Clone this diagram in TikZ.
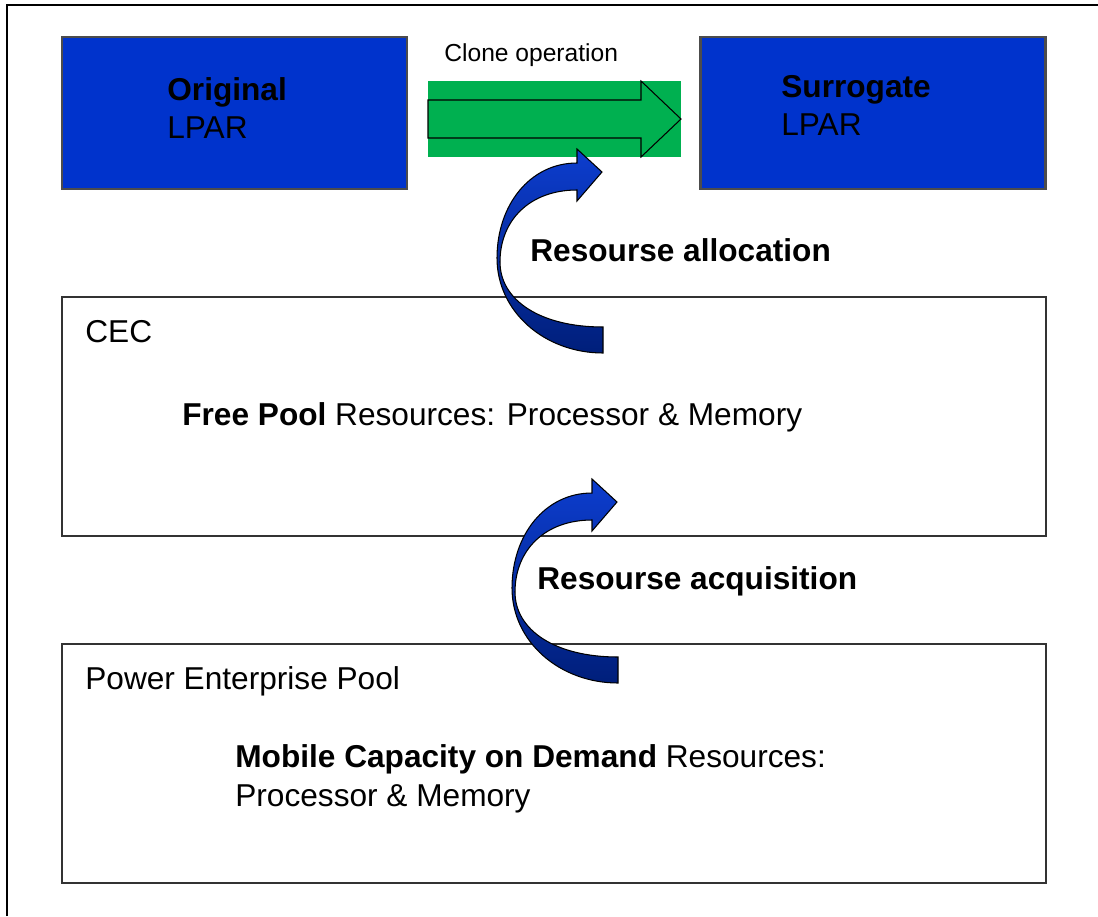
\documentclass[tikz,border=0pt]{standalone}
\usepackage{fontspec}
\setmainfont{Liberation Sans}
\usetikzlibrary{positioning}
\definecolor{lparblue}{HTML}{0033CC}
\definecolor{clonegreen}{HTML}{00B050}
% curved block arrow, shifted by #1
\newcommand{\tikzcurl}[1]{\begin{scope}[shift={(#1)}]
  \path[curl] (603,327) .. controls (540,327) and (500,300) .. (500,262) .. controls (500,220) and (530,190) .. (577,190)
    -- (577,201) -- (602,172) -- (577,149) -- (577,163) .. controls (530,163) and (497,205) .. (497,258)
    .. controls (497,312) and (545,353) .. (603,353) -- cycle;
  \end{scope}}
\tikzset{
  lparbox/.style={rectangle, draw=black!70, fill=lparblue, line width=1.2pt, minimum width=6.9cm, minimum height=3.04cm, inner sep=0pt},
  poolbox/.style={rectangle, draw=black!80, line width=0.8pt, minimum width=19.68cm, minimum height=4.78cm, inner sep=0pt},
  clonefield/.style={rectangle, fill=clonegreen, minimum width=5.06cm, minimum height=1.52cm, inner sep=0pt},
  txt/.style={anchor=base west, inner sep=0pt, font=\fontsize{18}{21}\selectfont},
  smalltxt/.style={anchor=base west, inner sep=0pt, font=\fontsize{14}{17}\selectfont},
  blockarrow/.style={draw=black, line width=0.6pt},
  curl/.style={draw=black, line width=0.6pt, top color=lparblue!95!white, bottom color=lparblue!60!black}
}
\begin{document}
\begin{tikzpicture}[x=0.02cm, y=-0.02cm]
  \useasboundingbox (0,0) rectangle (1098,916);
  \draw[line width=0.9pt] (7,916) -- (7,5) -- (1098,5);
  % LPARs
  \node[lparbox] (orig) at (234.5,113) {};
  \node[lparbox] (surr) at (873,113) {};
  \node[txt] (origname) at (167,100) {\textbf{Original}};
  \node[txt] (origlpar) at (167,138) {LPAR};
  \node[txt] (surrname) at (781,97) {\textbf{Surrogate}};
  \node[txt] (surrlpar) at (781,135) {LPAR};
  % clone operation
  \node[smalltxt] (clonetxt) at (444,61) {Clone operation};
  \node[clonefield] (clone) at (554.5,119) {};
  \draw[blockarrow] (428,100) -- (641,100) -- (641,81) -- (681,119) -- (641,157) -- (641,138) -- (428,138) -- cycle;
  % pools
  \node[poolbox] (cec) at (554,416.5) {};
  \node[poolbox] (pep) at (554,763.5) {};
  \node[txt] (cectxt) at (85,342) {CEC};
  \node[txt] (freepool) at (182,425) {\textbf{Free Pool} Resources: Processor \& Memory};
  \node[txt] (peptxt) at (85,689) {Power Enterprise Pool};
  \node[txt] (mobile) at (235,767) {\textbf{Mobile Capacity on Demand} Resources:};
  \node[txt] (mobile2) at (235,806) {Processor \& Memory};
  % resource flows
  \tikzcurl{0,0}
  \tikzcurl{15,330}
  \node[txt] (alloc) at (530,261) {\textbf{Resourse allocation}};
  \node[txt] (acq) at (537,589) {\textbf{Resourse acquisition}};
\end{tikzpicture}
\end{document}
